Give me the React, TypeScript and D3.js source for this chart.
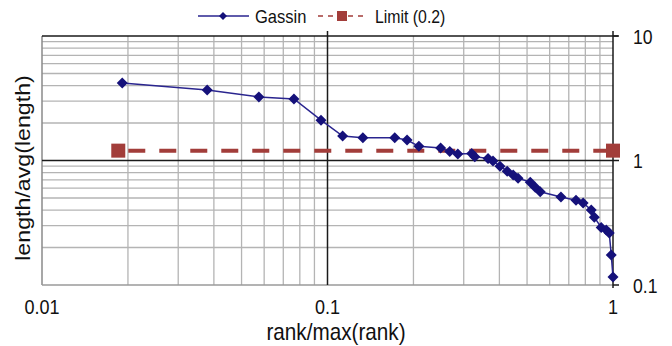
import React from "react";
import * as d3 from "d3";

const gassinX = [0.0191, 0.0379, 0.0575, 0.0763, 0.0949, 0.113, 0.133, 0.172, 0.19, 0.209, 0.249, 0.268, 0.286, 0.32, 0.328, 0.365, 0.38, 0.402, 0.426, 0.447, 0.465, 0.513, 0.534, 0.556, 0.657, 0.742, 0.786, 0.839, 0.86, 0.909, 0.947, 0.97, 0.986, 1.0];
const gassinY = [4.19, 3.68, 3.24, 3.12, 2.11, 1.57, 1.52, 1.52, 1.46, 1.3, 1.26, 1.18, 1.13, 1.14, 1.07, 1.04, 0.99, 0.9, 0.82, 0.765, 0.72, 0.67, 0.61, 0.56, 0.51, 0.48, 0.456, 0.4, 0.35, 0.29, 0.277, 0.262, 0.174, 0.116];
const limitX = [0.0185, 1.0];
const limitY = [1.2, 1.2];
const xTicks = [0.01, 0.1, 1];
const xTickLabels = ["0.01", "0.1", "1"];
const yTicks = [0.1, 1, 10];
const yTickLabels = ["0.1", "1", "10"];
const seriesNames = ["Gassin", "Limit (0.2)"];

const W = 672, H = 346;
const L = 42, R = 613, T = 36, B = 285;

export default function App() {
  const x = d3.scaleLog().domain([0.01, 1]).range([L, R]);
  const y = d3.scaleLog().domain([0.1, 10]).range([B, T]);
  const minorX: number[] = [];
  const minorY: number[] = [];
  [0.01, 0.1].forEach((d) => { for (let k = 2; k <= 9; k++) minorX.push(d * k); });
  [0.1, 1].forEach((d) => { for (let k = 2; k <= 9; k++) minorY.push(d * k); });
  const pts = gassinX.map((v, i) => [x(v), y(gassinY[i])] as [number, number]);
  const line = d3.line()(pts) || "";
  const diamond = (cx: number, cy: number, r: number) => `M${cx},${cy - r}L${cx + r},${cy}L${cx},${cy + r}L${cx - r},${cy}Z`;
  const font = "Arial, 'Liberation Sans', sans-serif";
  const navy = "#15117a";
  const brown = "#a23d3a";
  return (
    <svg width={W} height={H} style={{ position: "absolute", left: 0, top: 0, background: "#fff" }} fontFamily={font}>
      <rect x={0} y={0} width={W} height={H} fill="#fff" />
      {minorX.map((v, i) => <line key={"mx" + i} x1={x(v)} x2={x(v)} y1={T} y2={B} stroke="#b4b4b4" strokeWidth={1.3} />)}
      {minorY.map((v, i) => <line key={"my" + i} x1={L} x2={R} y1={y(v)} y2={y(v)} stroke="#b4b4b4" strokeWidth={1.3} />)}
      <line x1={L} x2={L} y1={T} y2={B} stroke="#8a8a8a" strokeWidth={1.5} />
      <line x1={L} x2={R} y1={B} y2={B} stroke="#9a9a9a" strokeWidth={1.5} />
      <line x1={x(0.1)} x2={x(0.1)} y1={T - 5} y2={B} stroke="#1a1a1a" strokeWidth={1.5} />
      <line x1={L} x2={R} y1={y(1)} y2={y(1)} stroke="#1a1a1a" strokeWidth={1.5} />
      <line x1={L} x2={R + 5} y1={T} y2={T} stroke="#1a1a1a" strokeWidth={1.5} />
      <line x1={R} x2={R} y1={T - 5} y2={B + 3} stroke="#1a1a1a" strokeWidth={1.5} />
      {yTicks.map((v, i) => <line key={"yt" + i} x1={R} x2={R + 6} y1={y(v)} y2={y(v)} stroke="#1a1a1a" strokeWidth={1.5} />)}
      {yTicks.map((v, i) => (
        <text key={"yl" + i} transform={`translate(${R + 20},${y(v) + 7.5}) scale(0.84,1)`} fontSize={21} fill="#111">{yTickLabels[i]}</text>
      ))}
      {xTicks.map((v, i) => (
        <text key={"xl" + i} transform={`translate(${x(v)},314) scale(0.86,1)`} textAnchor="middle" fontSize={21} fill="#111">{xTickLabels[i]}</text>
      ))}
      <text transform="translate(336,340) scale(0.9,1)" textAnchor="middle" fontSize={23} fill="#111">rank/max(rank)</text>
      <text transform="translate(30,168) rotate(-90) scale(1.16,1)" textAnchor="middle" fontSize={20} fill="#111">length/avg(length)</text>
      <line x1={x(limitX[0])} x2={x(limitX[1])} y1={y(limitY[0])} y2={y(limitY[1])} stroke={brown} strokeWidth={4} strokeDasharray="17,14" strokeDashoffset={-10} />
      {limitX.map((v, i) => <rect key={"lm" + i} x={x(v) - 7} y={y(limitY[i]) - 7} width={14} height={14} fill={brown} />)}
      <path d={line} fill="none" stroke="#2a258f" strokeWidth={1.5} />
      {pts.map((p, i) => <path key={"g" + i} d={diamond(p[0], p[1], 5.5)} fill={navy} />)}
      <g>
        <line x1={198} x2={249} y1={16} y2={16} stroke="#2a258f" strokeWidth={1.5} />
        <path d={diamond(223, 16, 4)} fill={navy} />
        <text transform="translate(255,23) scale(0.92,1)" fontSize={18} fill="#111">{seriesNames[0]}</text>
        <line x1={318} x2={366} y1={16} y2={16} stroke={brown} strokeWidth={1.5} strokeDasharray="5,5" />
        <rect x={337} y={11} width={10} height={10} fill={brown} />
        <text transform="translate(375,23) scale(0.88,1)" fontSize={18} fill="#111">{seriesNames[1]}</text>
      </g>
    </svg>
  );
}
